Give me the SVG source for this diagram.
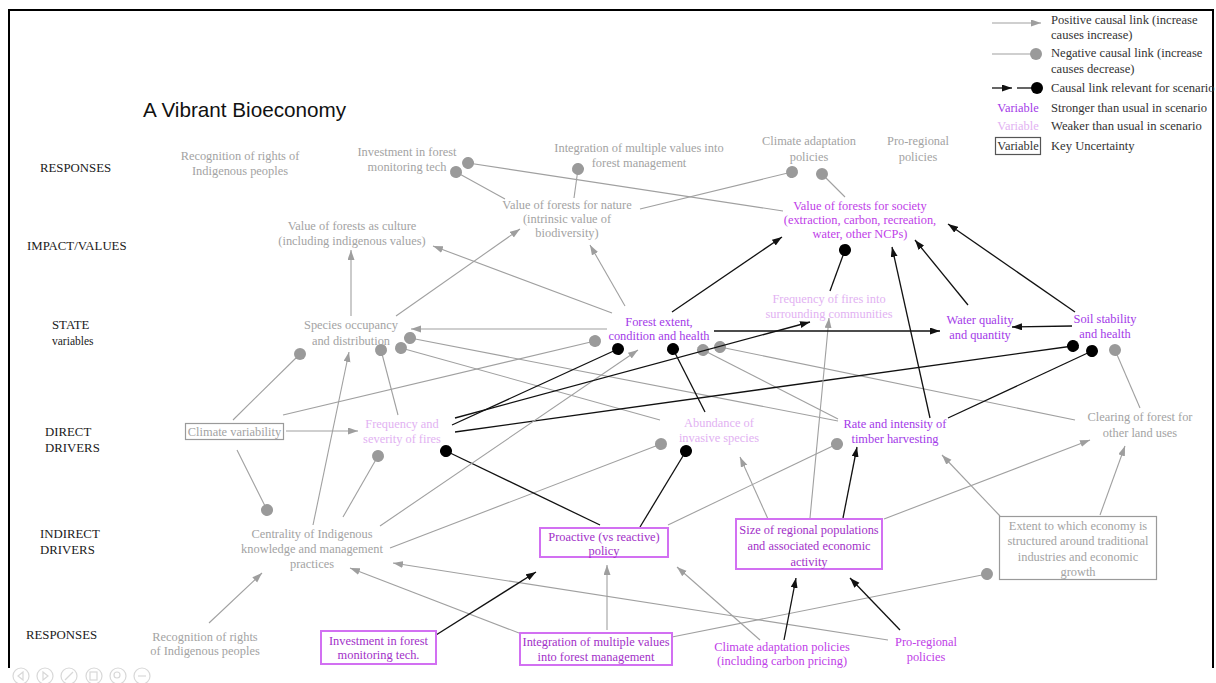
<svg xmlns="http://www.w3.org/2000/svg" width="1216" height="683" viewBox="0 0 1216 683">
  <style>
    text { font-family: "Liberation Serif", "Times New Roman", serif; font-size: 12.4px; }
    .row { fill: #1a1a1a; font-size: 12.8px; }
    .gray { fill: #a3a3a3; text-anchor: middle; }
    .strong { fill: #a33ae8; text-anchor: middle; }
    .strong2 { fill: #c040e8; text-anchor: middle; }
    .weak { fill: #e2b2f2; text-anchor: middle; }
    .boxtxt { fill: #a230c8; text-anchor: middle; }
    .leg { fill: #333; font-size: 12.6px; }
    .ln-g { stroke: #a0a0a0; stroke-width: 1.1; fill: none; }
    .ln-k { stroke: #111; stroke-width: 1.3; fill: none; }
    .neg-g { marker-end: url(#dot-g); }
    .neg-k { marker-end: url(#dot-k); }
    .pos-g { marker-end: url(#arr-g); }
    .pos-k { marker-end: url(#arr-k); }
    .kbox { fill: #fff; stroke: #d270f2; stroke-width: 2; }
    .ubox { fill: #fff; stroke: #9a9a9a; stroke-width: 1.2; }
    .ctrl { fill: none; stroke: #d8d8d8; stroke-width: 1.2; }
  </style>
  <defs>
    <marker id="arr-g" markerUnits="userSpaceOnUse" markerWidth="11" markerHeight="8" refX="10" refY="3.5" orient="auto">
      <path d="M0,0 L10,3.5 L0,7 z" fill="#9e9e9e"/>
    </marker>
    <marker id="arr-k" markerUnits="userSpaceOnUse" markerWidth="11" markerHeight="8" refX="10" refY="3.5" orient="auto">
      <path d="M0,0 L10,3.5 L0,7 z" fill="#111"/>
    </marker>
    <marker id="dot-g" markerUnits="userSpaceOnUse" markerWidth="13" markerHeight="13" refX="6.5" refY="6.5" orient="auto">
      <circle cx="6.5" cy="6.5" r="6" fill="#9a9a9a"/>
    </marker>
    <marker id="dot-k" markerUnits="userSpaceOnUse" markerWidth="13" markerHeight="13" refX="6.5" refY="6.5" orient="auto">
      <circle cx="6.5" cy="6.5" r="6" fill="#000"/>
    </marker>
  </defs>

  <rect width="1216" height="683" fill="#fff"/>

  <!-- slide frame -->
  <g id="frame" stroke="#000" stroke-width="2" fill="none">
    <path d="M9,668 L9,10 L1213,10 L1213,668"/>
  </g>

  <!-- title -->
  <text x="143" y="117" style="font-family: 'Liberation Sans', Arial, sans-serif; font-size: 20.7px; fill: #111;">A Vibrant Bioeconomy</text>

  <!-- row labels -->
  <g id="row-labels">
    <text class="row" x="40" y="172">RESPONSES</text>
    <text class="row" x="27" y="250">IMPACT/VALUES</text>
    <text class="row" x="52" y="329">STATE</text>
    <text class="row" x="52" y="345" style="font-size: 11.5px;">variables</text>
    <text class="row" x="45" y="436">DIRECT</text>
    <text class="row" x="45" y="452">DRIVERS</text>
    <text class="row" x="40" y="538">INDIRECT</text>
    <text class="row" x="40" y="554">DRIVERS</text>
    <text class="row" x="26" y="639">RESPONSES</text>
  </g>

  <!-- legend -->
  <g id="legend">
    <line class="ln-g pos-g" x1="992" y1="23" x2="1041" y2="23"/>
    <text class="leg" x="1051" y="24">Positive causal link (increase</text>
    <text class="leg" x="1051" y="39">causes increase)</text>
    <line class="ln-g neg-g" x1="992" y1="54" x2="1036" y2="54"/>
    <text class="leg" x="1051" y="57">Negative causal link (increase</text>
    <text class="leg" x="1051" y="73">causes decrease)</text>
    <line class="ln-k pos-k" x1="992" y1="88" x2="1012" y2="88"/>
    <line class="ln-k neg-k" x1="1017" y1="88" x2="1037" y2="88"/>
    <text class="leg" x="1051" y="92">Causal link relevant for scenario</text>
    <text x="1018" y="112" style="fill: #a33ae8; text-anchor: middle;">Variable</text>
    <text class="leg" x="1051" y="112">Stronger than usual in scenario</text>
    <text x="1018" y="130" style="fill: #e2b2f2; text-anchor: middle;">Variable</text>
    <text class="leg" x="1051" y="130">Weaker than usual in scenario</text>
    <rect x="995.5" y="137.5" width="45" height="17" fill="#fff" stroke="#555" stroke-width="1.2"/>
    <text x="1018" y="150" style="fill: #333; text-anchor: middle;">Variable</text>
    <text class="leg" x="1051" y="150">Key Uncertainty</text>
  </g>

  <!-- causal links -->
  <g id="connectors">
    <!-- negative links (grey) -->
    <path class="ln-g neg-g" d="M783,211 L468,163"/>
    <path class="ln-g neg-g" d="M505,199 L456,172"/>
    <path class="ln-g neg-g" d="M574,198 L578,169"/>
    <path class="ln-g neg-g" d="M640,209 L792,172"/>
    <path class="ln-g neg-g" d="M845,197 L822,174"/>
    <path class="ln-g neg-g" d="M1140,408 L1115,350"/>
    <path class="ln-g neg-g" d="M1075,420 L720,347"/>
    <path class="ln-g neg-g" d="M838,419 L703,350"/>
    <path class="ln-g neg-g" d="M838,421 L410,338"/>
    <path class="ln-g neg-g" d="M660,420 L401,348"/>
    <path class="ln-g neg-g" d="M398,415 L381,350"/>
    <path class="ln-g neg-g" d="M233,420 L300,354"/>
    <path class="ln-g neg-g" d="M283,415 L595,341"/>
    <path class="ln-g neg-g" d="M237,450 L267,510"/>
    <path class="ln-g neg-g" d="M343,517 L378,456"/>
    <path class="ln-g neg-g" d="M390,548 L661,444"/>
    <path class="ln-g neg-g" d="M668,525 L837,444"/>
    <path class="ln-g neg-g" d="M672,637 L987,574"/>
    <!-- negative links relevant for scenario -->
    <path class="ln-k neg-k" d="M830,291 L845,250"/>
    <path class="ln-k neg-k" d="M452,425 L618,349"/>
    <path class="ln-k neg-k" d="M455,432 L1073,346"/>
    <path class="ln-k neg-k" d="M705,412 L673,349"/>
    <path class="ln-k neg-k" d="M948,418 L1092,351"/>
    <path class="ln-k neg-k" d="M600,525 L446,451"/>
    <path class="ln-k neg-k" d="M640,527 L686,451"/>
    <!-- positive links (grey) -->
    <path class="ln-g pos-g" d="M351,316 L351,250"/>
    <path class="ln-g pos-g" d="M396,316 L520,229"/>
    <path class="ln-g pos-g" d="M612,313 L433,246"/>
    <path class="ln-g pos-g" d="M625,306 L590,245"/>
    <path class="ln-g pos-g" d="M607,329 L411,329"/>
    <path class="ln-g pos-g" d="M313,525 L349,352"/>
    <path class="ln-g pos-g" d="M380,526 L638,350"/>
    <path class="ln-g pos-g" d="M810,518 L829,318"/>
    <path class="ln-g pos-g" d="M286,431 L358,431"/>
    <path class="ln-g pos-g" d="M768,519 L740,457"/>
    <path class="ln-g pos-g" d="M884,519 L1090,440"/>
    <path class="ln-g pos-g" d="M1000,516 L942,455"/>
    <path class="ln-g pos-g" d="M1100,515 L1125,446"/>
    <path class="ln-g pos-g" d="M209,623 L262,573"/>
    <path class="ln-g pos-g" d="M519,633 L350,568"/>
    <path class="ln-g pos-g" d="M888,640 L393,563"/>
    <path class="ln-g pos-g" d="M607,630 L607,565"/>
    <path class="ln-g pos-g" d="M760,640 L677,567"/>
    <!-- positive links relevant for scenario -->
    <path class="ln-k pos-k" d="M672,312 L782,237"/>
    <path class="ln-k pos-k" d="M930,418 L892,247"/>
    <path class="ln-k pos-k" d="M968,305 L915,240"/>
    <path class="ln-k pos-k" d="M1075,312 L948,224"/>
    <path class="ln-k pos-k" d="M714,331 L940,331"/>
    <path class="ln-k pos-k" d="M1072,326 L1012,327"/>
    <path class="ln-k pos-k" d="M455,418 L810,322"/>
    <path class="ln-k pos-k" d="M843,518 L857,447"/>
    <path class="ln-k pos-k" d="M436,635 L536,572"/>
    <path class="ln-k pos-k" d="M784,640 L796,578"/>
    <path class="ln-k pos-k" d="M900,630 L850,578"/>
  </g>

  <!-- responses (upper) -->
  <g id="resp-recognition-top">
    <text class="gray" x="240" y="160">Recognition of rights of</text>
    <text class="gray" x="240" y="175">Indigenous peoples</text>
  </g>
  <g id="resp-investment-top">
    <text class="gray" x="407" y="156">Investment in forest</text>
    <text class="gray" x="407" y="171">monitoring tech</text>
  </g>
  <g id="resp-integration-top">
    <text class="gray" x="639" y="152">Integration of multiple values into</text>
    <text class="gray" x="639" y="167">forest management</text>
  </g>
  <g id="resp-climate-top">
    <text class="gray" x="809" y="145">Climate adaptation</text>
    <text class="gray" x="809" y="161">policies</text>
  </g>
  <g id="resp-proregional-top">
    <text class="gray" x="918" y="145">Pro-regional</text>
    <text class="gray" x="918" y="161">policies</text>
  </g>

  <!-- impacts / values -->
  <g id="val-culture">
    <text class="gray" x="352" y="230">Value of forests as culture</text>
    <text class="gray" x="352" y="245">(including indigenous values)</text>
  </g>
  <g id="val-nature">
    <text class="gray" x="567" y="209">Value of forests for nature</text>
    <text class="gray" x="567" y="223">(intrinsic value of</text>
    <text class="gray" x="567" y="237">biodiversity)</text>
  </g>
  <g id="val-society">
    <text class="strong2" x="860" y="210">Value of forests for society</text>
    <text class="strong2" x="860" y="224">(extraction, carbon, recreation,</text>
    <text class="strong2" x="860" y="238">water, other NCPs)</text>
  </g>

  <!-- state variables -->
  <g id="st-species">
    <text class="gray" x="351" y="329">Species occupancy</text>
    <text class="gray" x="351" y="345">and distribution</text>
  </g>
  <g id="st-forest">
    <text class="strong" x="659" y="326">Forest extent,</text>
    <text class="strong" x="659" y="340">condition and health</text>
  </g>
  <g id="st-fires-communities">
    <text class="weak" x="829" y="303">Frequency of fires into</text>
    <text class="weak" x="829" y="318">surrounding communities</text>
  </g>
  <g id="st-water">
    <text class="strong" x="980" y="324">Water quality</text>
    <text class="strong" x="980" y="339">and quantity</text>
  </g>
  <g id="st-soil">
    <text class="strong" x="1105" y="323">Soil stability</text>
    <text class="strong" x="1105" y="338">and health</text>
  </g>

  <!-- direct drivers -->
  <g id="dd-climate">
    <rect class="ubox" x="185.5" y="423.5" width="98" height="16"/>
    <text class="gray" x="234.5" y="435.5">Climate variability</text>
  </g>
  <g id="dd-fires">
    <text class="weak" x="402" y="428">Frequency and</text>
    <text class="weak" x="402" y="443">severity of fires</text>
  </g>
  <g id="dd-invasive">
    <text class="weak" x="719" y="427">Abundance of</text>
    <text class="weak" x="719" y="442">invasive species</text>
  </g>
  <g id="dd-timber">
    <text class="strong" x="895" y="428">Rate and intensity of</text>
    <text class="strong" x="895" y="443">timber harvesting</text>
  </g>
  <g id="dd-clearing">
    <text class="gray" x="1140" y="421">Clearing of forest for</text>
    <text class="gray" x="1140" y="437">other land uses</text>
  </g>

  <!-- indirect drivers -->
  <g id="id-centrality">
    <text class="gray" x="312" y="538">Centrality of Indigenous</text>
    <text class="gray" x="312" y="553">knowledge and management</text>
    <text class="gray" x="312" y="568">practices</text>
  </g>
  <g id="id-proactive">
    <rect class="kbox" x="540" y="528" width="128" height="29"/>
    <text class="boxtxt" x="604" y="541">Proactive (vs reactive)</text>
    <text class="boxtxt" x="604" y="555">policy</text>
  </g>
  <g id="id-population">
    <rect class="kbox" x="736" y="519" width="146" height="50"/>
    <text class="boxtxt" x="809" y="534">Size of regional populations</text>
    <text class="boxtxt" x="809" y="550">and associated economic</text>
    <text class="boxtxt" x="809" y="566">activity</text>
  </g>
  <g id="id-economy">
    <rect class="ubox" x="999.5" y="516.5" width="157" height="63"/>
    <text class="gray" x="1078" y="530">Extent to which economy is</text>
    <text class="gray" x="1078" y="545">structured around traditional</text>
    <text class="gray" x="1078" y="561">industries and economic</text>
    <text class="gray" x="1078" y="576">growth</text>
  </g>

  <!-- responses (lower) -->
  <g id="resp-recognition">
    <text class="gray" x="205" y="641">Recognition of rights</text>
    <text class="gray" x="205" y="655">of Indigenous peoples</text>
  </g>
  <g id="resp-investment">
    <rect class="kbox" x="321" y="631" width="115" height="33"/>
    <text class="boxtxt" x="378.5" y="645">Investment in forest</text>
    <text class="boxtxt" x="378.5" y="659">monitoring tech.</text>
  </g>
  <g id="resp-integration">
    <rect class="kbox" x="520" y="633" width="152" height="32"/>
    <text class="boxtxt" x="596" y="646">Integration of multiple values</text>
    <text class="boxtxt" x="596" y="661">into forest management</text>
  </g>
  <g id="resp-climate">
    <text class="strong2" x="782" y="651">Climate adaptation policies</text>
    <text class="strong2" x="782" y="665">(including carbon pricing)</text>
  </g>
  <g id="resp-proregional">
    <text class="strong2" x="926" y="646">Pro-regional</text>
    <text class="strong2" x="926" y="661">policies</text>
  </g>

  <!-- slideshow controls -->
  <g id="controls">
    <circle class="ctrl" cx="21" cy="676" r="8"/>
    <path class="ctrl" d="M23,672 L18,676 L23,680 z"/>
    <circle class="ctrl" cx="45" cy="676" r="8"/>
    <path class="ctrl" d="M43,672 L48,676 L43,680 z"/>
    <circle class="ctrl" cx="69" cy="676" r="8"/>
    <path class="ctrl" d="M65,680 L73,672"/>
    <circle class="ctrl" cx="94" cy="676" r="8"/>
    <rect class="ctrl" x="90" y="672" width="7" height="8"/>
    <circle class="ctrl" cx="118" cy="676" r="8"/>
    <circle class="ctrl" cx="117" cy="675" r="3"/>
    <circle class="ctrl" cx="142" cy="676" r="8"/>
    <path class="ctrl" d="M138,676 L146,676"/>
  </g>
</svg>
